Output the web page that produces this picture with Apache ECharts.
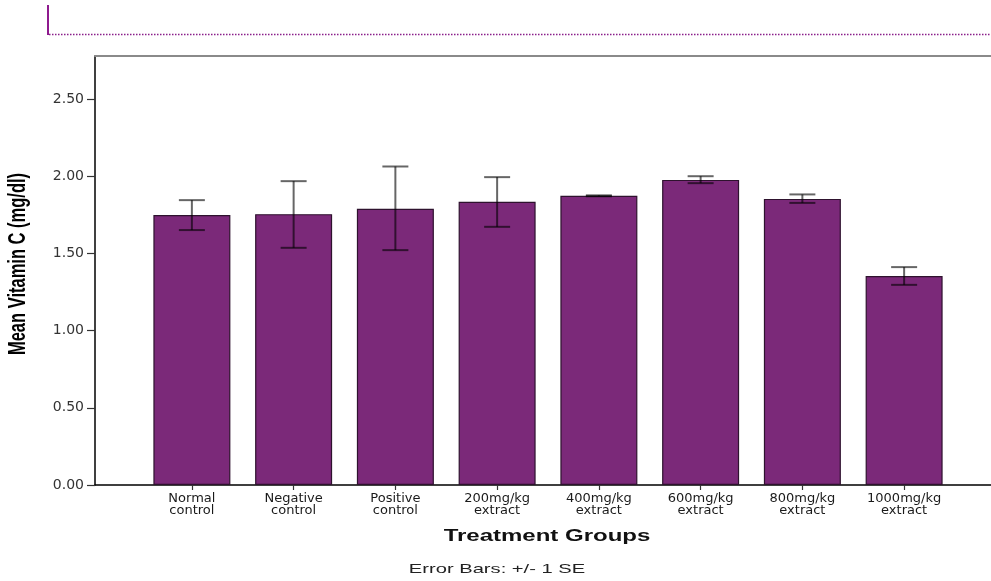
<!DOCTYPE html>
<html>
<head>
<meta charset="utf-8">
<script src="https://cdn.jsdelivr.net/npm/echarts@6/dist/echarts.min.js"></script>
<style>
html,body{margin:0;padding:0;background:#fff;}
#chart{width:991px;height:581px;}
</style>
</head>
<body>
<div id="chart"></div>
<script>
// ---- data ----
var categories = ['Normal\ncontrol', 'Negative\ncontrol', 'Positive\ncontrol', '200mg/kg\nextract',
                  '400mg/kg\nextract', '600mg/kg\nextract', '800mg/kg\nextract', '1000mg/kg\nextract'];
var means   = [1.75, 1.755, 1.79, 1.835, 1.874, 1.977, 1.854, 1.354];
var errLow  = [1.652, 1.537, 1.522, 1.673, 1.871, 1.956, 1.828, 1.297];
var errHigh = [1.846, 1.969, 2.064, 1.995, 1.877, 2.001, 1.883, 1.412];
var yTicks  = [0, 0.5, 1.0, 1.5, 2.0, 2.5];
var yMax = 2.78;
var yTitle = 'Mean Vitamin C (mg/dl)';
var xTitle = 'Treatment Groups';
var footNote = 'Error Bars: +/- 1 SE';

var chart = echarts.init(document.getElementById('chart'), null, {renderer: 'canvas'});

var errData = categories.map(function (c, i) { return [i, errLow[i], errHigh[i]]; });

var option = {
  backgroundColor: '#ffffff',
  animation: false,
  grid: [
    {left: 95, right: 0, top: 56, bottom: 96},
    {left: 141, right: 36, top: 56, bottom: 96}
  ],
  xAxis: [
    {gridIndex: 0, type: 'value', min: 0, max: 1, position: 'bottom',
     axisLine: {show: true, lineStyle: {color: '#000', width: 1.5}},
     axisTick: {show: false}, axisLabel: {show: false}, splitLine: {show: false}},
    {gridIndex: 1, type: 'category', data: categories, position: 'bottom',
     axisLine: {show: false},
     axisTick: {show: true, alignWithLabel: true, length: 5, lineStyle: {color: '#333', width: 1.2}},
     axisLabel: {margin: 7, color: '#1a1a1a', fontFamily: 'DejaVu Sans', fontSize: 13, lineHeight: 12.5},
     splitLine: {show: false}},
    {gridIndex: 0, type: 'value', min: 0, max: 1, position: 'top',
     axisLine: {show: true, lineStyle: {color: '#8a8a8a', width: 2}},
     axisTick: {show: false}, axisLabel: {show: false}, splitLine: {show: false}}
  ],
  yAxis: [
    {gridIndex: 0, type: 'value', min: 0, max: yMax, interval: 0.5,
     axisLine: {show: true, lineStyle: {color: '#000', width: 1.5}},
     axisTick: {show: true, length: 8, customValues: yTicks, lineStyle: {color: '#333', width: 1.2}},
     axisLabel: {customValues: yTicks, margin: 11, color: '#333', fontFamily: 'DejaVu Sans', fontSize: 14,
                 formatter: function (v) { return v.toFixed(2); }},
     splitLine: {show: false}},
    {gridIndex: 1, type: 'value', min: 0, max: yMax, show: false, splitLine: {show: false}}
  ],
  series: [
    {type: 'bar', xAxisIndex: 1, yAxisIndex: 1, data: means, barWidth: 77,
     itemStyle: {color: '#7b2979', borderColor: '#2e122e', borderWidth: 1.2}},
    {type: 'custom', xAxisIndex: 1, yAxisIndex: 1, data: errData, z: 10,
     renderItem: function (params, api) {
       var i = api.value(0);
       var lo = api.coord([i, api.value(1)]);
       var hi = api.coord([i, api.value(2)]);
       var hw = 13;
       var st = {stroke: 'rgba(0,0,0,0.6)', lineWidth: 2};
       return {type: 'group', children: [
         {type: 'line', shape: {x1: hi[0], y1: hi[1], x2: lo[0], y2: lo[1]}, style: st},
         {type: 'line', shape: {x1: hi[0] - hw, y1: hi[1], x2: hi[0] + hw, y2: hi[1]}, style: st},
         {type: 'line', shape: {x1: lo[0] - hw, y1: lo[1], x2: lo[0] + hw, y2: lo[1]}, style: st}
       ]};
     }}
  ],
  graphic: [
    {type: 'line', shape: {x1: 48, y1: 5, x2: 48, y2: 35}, style: {stroke: '#8e1a8e', lineWidth: 2}},
    {type: 'line', shape: {x1: 49, y1: 34.5, x2: 991, y2: 34.5}, style: {stroke: '#8a1f8a', lineWidth: 1.5, lineDash: [1.5, 1.5]}},
    {type: 'text', x: 18, y: 264, rotation: Math.PI / 2, scaleY: 1.45,
     style: {text: yTitle, fill: '#000', font: 'bold 16.5px "Liberation Sans", Arial, sans-serif',
             textAlign: 'center', textVerticalAlign: 'middle'}},
    {type: 'text', x: 547, y: 537, scaleX: 1.5,
     style: {text: xTitle, fill: '#111', font: 'bold 16px "Liberation Sans", Arial, sans-serif',
             textAlign: 'center', textVerticalAlign: 'middle'}},
    {type: 'text', x: 497, y: 569, scaleX: 1.55,
     style: {text: footNote, fill: '#222', font: '13px "Liberation Sans", Arial, sans-serif',
             textAlign: 'center', textVerticalAlign: 'middle'}}
  ]
};
chart.setOption(option);
</script>
</body>
</html>
